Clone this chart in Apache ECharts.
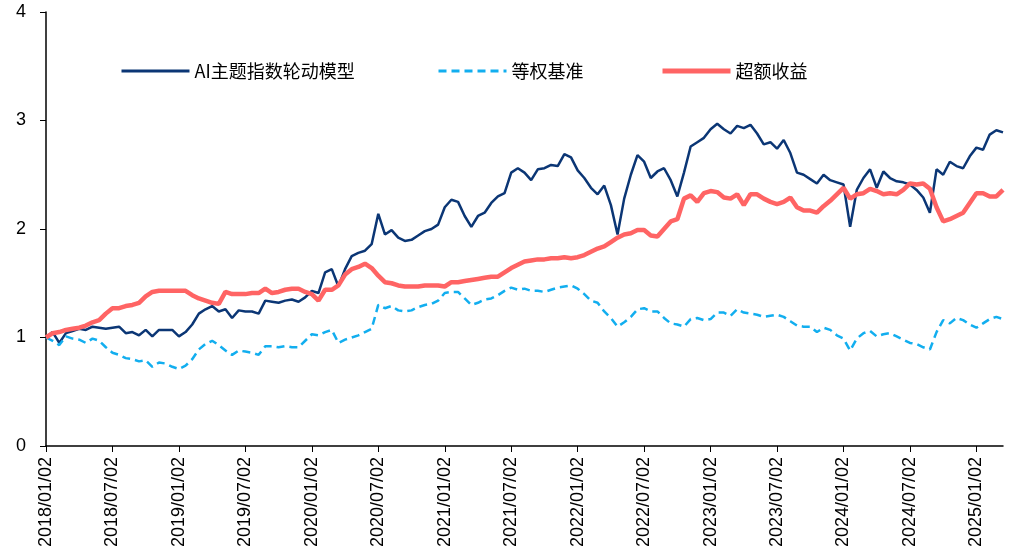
<!DOCTYPE html>
<html>
<head>
<meta charset="utf-8">
<script src="https://cdn.jsdelivr.net/npm/echarts@6/dist/echarts.min.js"></script>
<style>
  html, body { margin: 0; padding: 0; background: #fff; }
  #chart { width: 1013px; height: 556px; }
</style>
</head>
<body>
<div id="chart"></div>
<script>
// tick labels every 10 samples (one sample ~ half a month of trading days)
var tickLabels = ['2018/01/02', '2018/07/02', '2019/01/02', '2019/07/02', '2020/01/02',
    '2020/07/02', '2021/01/02', '2021/07/02', '2022/01/02', '2022/07/02',
    '2023/01/02', '2023/07/02', '2024/01/02', '2024/07/02', '2025/01/02'];
var samplesPerTick = 10;

var modelName = 'AI主题指数轮动模型';
var benchName = '等权基准';
var excessName = '超额收益';

var modelValues = [
    1.00, 1.05, 0.95, 1.04, 1.06, 1.08, 1.07, 1.10, 1.09, 1.08, 1.09, 1.10, 1.04, 1.05, 1.02, 1.07, 1.01, 1.07, 1.07,
    1.07, 1.01, 1.05, 1.12, 1.22, 1.26, 1.29, 1.24, 1.26, 1.18, 1.25, 1.24, 1.24, 1.22, 1.34, 1.33, 1.32, 1.34,
    1.35, 1.33, 1.37, 1.43, 1.41, 1.60, 1.63, 1.47, 1.63, 1.75, 1.78, 1.80, 1.86, 2.14, 1.95, 1.99, 1.92, 1.89,
    1.90, 1.94, 1.98, 2.00, 2.04, 2.20, 2.27, 2.25, 2.12, 2.02, 2.12, 2.15, 2.24, 2.30, 2.33, 2.52, 2.56, 2.52,
    2.45, 2.55, 2.56, 2.59, 2.58, 2.69, 2.66, 2.54, 2.47, 2.38, 2.32, 2.40, 2.22, 1.95, 2.28, 2.50, 2.68, 2.62,
    2.47, 2.53, 2.56, 2.45, 2.30, 2.52, 2.76, 2.80, 2.84, 2.92, 2.97, 2.92, 2.88, 2.95, 2.93, 2.96, 2.88, 2.78, 2.80,
    2.74, 2.82, 2.70, 2.52, 2.50, 2.46, 2.42, 2.50, 2.45, 2.43, 2.41, 2.02, 2.36, 2.47, 2.55, 2.38, 2.53, 2.47,
    2.44, 2.43, 2.41, 2.36, 2.29, 2.15, 2.55, 2.50, 2.62, 2.58, 2.56, 2.67, 2.75, 2.73, 2.87, 2.91, 2.89
];

var benchValues = [
    1.00, 0.97, 0.93, 1.01, 0.99, 0.98, 0.95, 0.99, 0.97, 0.91, 0.86, 0.84, 0.81, 0.80, 0.78, 0.79, 0.73, 0.77, 0.76,
    0.73, 0.71, 0.74, 0.80, 0.89, 0.94, 0.97, 0.93, 0.88, 0.84, 0.88, 0.87, 0.86, 0.84, 0.92, 0.92, 0.91, 0.92,
    0.91, 0.91, 0.97, 1.03, 1.02, 1.05, 1.07, 0.95, 0.98, 1.00, 1.02, 1.05, 1.08, 1.30, 1.27, 1.29, 1.25, 1.24,
    1.25, 1.28, 1.30, 1.31, 1.34, 1.41, 1.42, 1.42, 1.36, 1.30, 1.32, 1.35, 1.36, 1.39, 1.43, 1.46, 1.44, 1.45,
    1.43, 1.43, 1.42, 1.44, 1.46, 1.47, 1.48, 1.45, 1.40, 1.34, 1.32, 1.24, 1.18, 1.10, 1.14, 1.19, 1.26, 1.27,
    1.24, 1.24, 1.18, 1.13, 1.12, 1.10, 1.17, 1.18, 1.16, 1.17, 1.23, 1.23, 1.20, 1.26, 1.23, 1.22, 1.21, 1.19, 1.20,
    1.21, 1.19, 1.15, 1.11, 1.10, 1.10, 1.05, 1.09, 1.07, 1.02, 0.99, 0.88, 0.99, 1.04, 1.06, 1.01, 1.03, 1.04,
    1.01, 0.98, 0.95, 0.94, 0.91, 0.89, 1.05, 1.16, 1.13, 1.18, 1.16, 1.12, 1.09, 1.13, 1.17, 1.19, 1.17
];

var excessValues = [
    1.00, 1.04, 1.05, 1.07, 1.08, 1.09, 1.11, 1.14, 1.16, 1.22, 1.27, 1.27, 1.29, 1.30, 1.32, 1.38, 1.42, 1.43, 1.43,
    1.43, 1.43, 1.43, 1.39, 1.36, 1.34, 1.32, 1.31, 1.42, 1.40, 1.40, 1.40, 1.41, 1.41, 1.45, 1.41, 1.42, 1.44,
    1.45, 1.45, 1.42, 1.40, 1.34, 1.44, 1.44, 1.48, 1.58, 1.63, 1.65, 1.68, 1.64, 1.57, 1.51, 1.50, 1.48, 1.47,
    1.47, 1.47, 1.48, 1.48, 1.48, 1.47, 1.51, 1.51, 1.52, 1.53, 1.54, 1.55, 1.56, 1.56, 1.60, 1.64, 1.67, 1.70,
    1.71, 1.72, 1.72, 1.73, 1.73, 1.74, 1.73, 1.74, 1.76, 1.79, 1.82, 1.84, 1.88, 1.92, 1.95, 1.96, 1.99, 1.99,
    1.94, 1.93, 2.00, 2.07, 2.09, 2.28, 2.31, 2.25, 2.33, 2.35, 2.34, 2.29, 2.28, 2.32, 2.22, 2.32, 2.32, 2.28, 2.25,
    2.23, 2.25, 2.29, 2.20, 2.17, 2.17, 2.15, 2.21, 2.26, 2.32, 2.38, 2.28, 2.32, 2.33, 2.37, 2.35, 2.32, 2.33,
    2.32, 2.36, 2.42, 2.41, 2.42, 2.37, 2.20, 2.07, 2.09, 2.12, 2.15, 2.24, 2.33, 2.33, 2.30, 2.30, 2.36
];

var categories = modelValues.map(function (v, i) { return String(i); });

var cjkFont = 'Noto Sans CJK SC';
var latinFont = 'Liberation Sans, Arial, sans-serif';

function isTick(index) {
    return index % samplesPerTick === 0;
}

var legendText = { fontSize: 18, color: '#000', fontFamily: cjkFont };
// hide the circle ECharts puts in the middle of a line legend icon
var noSymbol = { opacity: 0 };

function legendAt(name, left, width) {
    return {
        data: [name], left: left, top: 62, padding: 0,
        itemWidth: 68, itemHeight: 14, itemGap: 0,
        itemStyle: noSymbol, lineStyle: { width: width }, textStyle: legendText
    };
}

var option = {
    animation: false,
    backgroundColor: '#fff',
    grid: { left: 46, right: 10, top: 12, bottom: 110 },
    legend: [
        legendAt(modelName, 120, 3),
        legendAt(benchName, 437, 3),
        legendAt(excessName, 660, 5)
    ],
    xAxis: {
        type: 'category',
        boundaryGap: false,
        data: categories,
        axisLine: { lineStyle: { color: '#000', width: 1.5 } },
        axisTick: { interval: isTick, length: 6, lineStyle: { color: '#000' } },
        axisLabel: {
            interval: isTick,
            rotate: 90,
            margin: 11,
            fontSize: 18,
            fontFamily: latinFont,
            color: '#000',
            formatter: function (val, idx) {
                return tickLabels[idx / samplesPerTick] || '';
            }
        },
        splitLine: { show: false }
    },
    yAxis: {
        type: 'value',
        min: 0,
        max: 4,
        interval: 1,
        axisLine: { show: true, lineStyle: { color: '#000', width: 1.5 } },
        axisTick: { show: true, length: 6, lineStyle: { color: '#000' } },
        axisLabel: { margin: 20, fontSize: 18, fontFamily: latinFont, color: '#000' },
        splitLine: { show: false }
    },
    series: [
        {
            name: modelName,
            type: 'line',
            symbol: 'none',
            data: modelValues,
            itemStyle: { color: '#0B3675' },
            lineStyle: { color: '#0B3675', width: 2.5 }
        },
        {
            name: benchName,
            type: 'line',
            symbol: 'none',
            data: benchValues,
            itemStyle: { color: '#12AEEF' },
            lineStyle: { color: '#12AEEF', width: 2.5, type: [8, 5] }
        },
        {
            name: excessName,
            type: 'line',
            symbol: 'none',
            data: excessValues,
            itemStyle: { color: '#FF6464' },
            lineStyle: { color: '#FF6464', width: 4.5 }
        }
    ]
};

var chart = echarts.init(document.getElementById('chart'));
chart.setOption(option);
</script>
</body>
</html>
